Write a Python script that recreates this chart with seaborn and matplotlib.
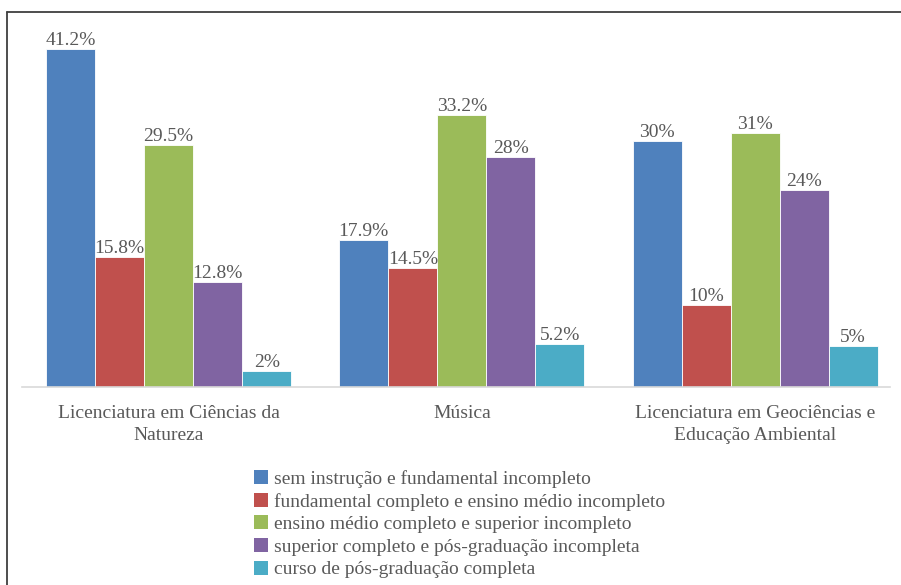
import matplotlib
matplotlib.use("Agg")
import matplotlib.pyplot as plt
from matplotlib.lines import Line2D
from matplotlib.patches import Patch
import seaborn as sns
import pandas as pd

cursos = ["Licenciatura em Ciências da\nNatureza", "Música",
          "Licenciatura em Geociências e\nEducação Ambiental"]
escolaridade = [
    "sem instrução e fundamental incompleto",
    "fundamental completo e ensino médio incompleto",
    "ensino médio completo e superior incompleto",
    "superior completo e pós-graduação incompleta",
    "curso de pós-graduação completa",
]
sem_instrucao = [41.2, 17.9, 30]
fundamental = [15.8, 14.5, 10]
medio = [29.5, 33.2, 31]
superior = [12.8, 28, 24]
pos_graduacao = [2, 5.2, 5]
cores = ["#4F81BD", "#C0504D", "#9BBB59", "#8064A2", "#4BACC6"]

series = [sem_instrucao, fundamental, medio, superior, pos_graduacao]
rows = []
for nivel, valores in zip(escolaridade, series):
    for curso, v in zip(cursos, valores):
        rows.append({"curso": curso, "nivel": nivel, "pct": v})
df = pd.DataFrame(rows)

sns.set_theme(style="white")
plt.rcParams["font.family"] = ["Liberation Serif", "DejaVu Serif"]
texto = "#595959"
fs = 14

fig = plt.figure(figsize=(9.01, 5.85), dpi=100)
ax = fig.add_axes([22 / 901, 1 - 387 / 585, (890 - 22) / 901, (387 - 30) / 585])

sns.barplot(data=df, x="curso", y="pct", hue="nivel", order=cursos,
            hue_order=escolaridade, palette=cores, width=0.836,
            saturation=1, ax=ax, legend=False, errorbar=None,
            edgecolor="white", linewidth=0.6)

for cont in ax.containers:
    ax.bar_label(cont, labels=[f"{b.get_height():g}%" for b in cont],
                 padding=0, fontsize=fs, color=texto)

ax.set_ylim(0, 43.5)
ax.set_xlim(-0.5, 2.46)
ax.set_yticks([])
ax.set_xlabel("")
ax.set_ylabel("")
for s in ["top", "right", "left"]:
    ax.spines[s].set_visible(False)
ax.spines["bottom"].set_color("#D9D9D9")
ax.spines["bottom"].set_linewidth(1.2)
ax.tick_params(axis="x", length=0, pad=13, labelsize=fs, labelcolor=texto)
for t in ax.get_xticklabels():
    t.set_linespacing(1.4)

handles = [Patch(facecolor=c, edgecolor="none") for c in cores]
fig.legend(handles, escolaridade, loc="upper left",
           bbox_to_anchor=(254 / 901, 1 - 470 / 585), frameon=False,
           fontsize=fs, labelcolor=texto, handlelength=0.72,
           handleheight=0.72, handletextpad=0.3, labelspacing=0.25,
           borderpad=0, borderaxespad=0)

frame = "#3F3F3F"
fig.add_artist(Line2D([7 / 901, 7 / 901], [0, 1 - 12 / 585],
                      transform=fig.transFigure, color=frame, linewidth=1.3))
fig.add_artist(Line2D([7 / 901, 1], [1 - 12 / 585, 1 - 12 / 585],
                      transform=fig.transFigure, color=frame, linewidth=1.3))

fig.savefig("out.png", dpi=100)
